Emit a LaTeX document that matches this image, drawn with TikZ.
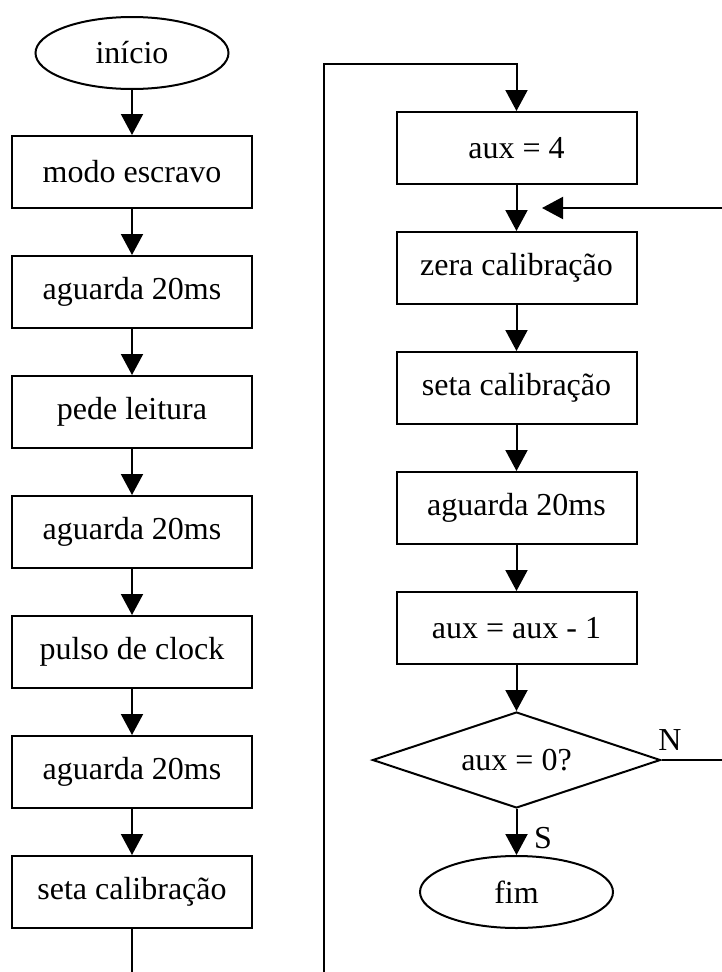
\documentclass[tikz,border=0pt]{standalone}
\usepackage{fontspec}
\setmainfont{Liberation Serif}
\usetikzlibrary{shapes.geometric,arrows.meta}
\begin{document}
\begin{tikzpicture}[x=1pt,y=-1pt,
  every node/.style={font=\fontsize{32}{36}\selectfont},
  box/.style={draw,line width=2pt,minimum width=240pt,minimum height=72pt,inner sep=0pt},
  term/.style={draw,ellipse,line width=2pt,minimum width=193pt,minimum height=72pt,inner sep=0pt},
  decis/.style={draw,diamond,line width=2pt,minimum width=288pt,minimum height=96pt,inner sep=0pt,aspect=3},
  conn/.style={line width=2pt},
  arr/.style={conn,-{Triangle[length=21pt,width=22pt]}},
  lbl/.style={inner sep=0pt}]
\useasboundingbox (0,0) rectangle (721,972);
% left column
\node[term] (ini) at (132,53) {início};
\node[box] (b1) at (132,172) {modo escravo};
\node[box] (b2) at (132,292) {aguarda 20ms};
\node[box] (b3) at (132,412) {pede leitura};
\node[box] (b4) at (132,532) {aguarda 20ms};
\node[box] (b5) at (132,652) {pulso de clock};
\node[box] (b6) at (132,772) {aguarda 20ms};
\node[box] (b7) at (132,892) {seta calibração};
\draw[arr] (ini) -- (b1);
\draw[arr] (b1) -- (b2);
\draw[arr] (b2) -- (b3);
\draw[arr] (b3) -- (b4);
\draw[arr] (b4) -- (b5);
\draw[arr] (b5) -- (b6);
\draw[arr] (b6) -- (b7);
\coordinate (lbot) at (132,975);
\draw[conn] (b7) -- (lbot);
% right column
\node[box] (r1) at (516.5,148) {aux = 4};
\node[box] (r2) at (516.5,268) {zera calibração};
\node[box] (r3) at (516.5,388) {seta calibração};
\node[box] (r4) at (516.5,508) {aguarda 20ms};
\node[box] (r5) at (516.5,628) {aux = aux - 1};
\node[decis] (d) at (516.5,760) {aux = 0?};
\node[term] (fim) at (516.5,892) {fim};
\coordinate (rbot) at (324,975);
\coordinate (rtopl) at (324,64);
\coordinate (rtopr) at (516.5,64);
\draw[arr] (rbot) -- (rtopl) -- (rtopr) -- (r1);
\draw[arr] (r1) -- (r2);
\draw[arr] (r2) -- (r3);
\draw[arr] (r3) -- (r4);
\draw[arr] (r4) -- (r5);
\draw[arr] (r5) -- (d);
\draw[arr] (d) -- (fim);
\coordinate (nr) at (723,760);
\coordinate (fr) at (723,208);
\coordinate (ft) at (542,208);
\draw[conn] (d.east) -- (nr);
\draw[arr] (fr) -- (ft);
\node[lbl] (N) at (670,740) {N};
\node[lbl] (S) at (543,838) {S};
\end{tikzpicture}
\end{document}
